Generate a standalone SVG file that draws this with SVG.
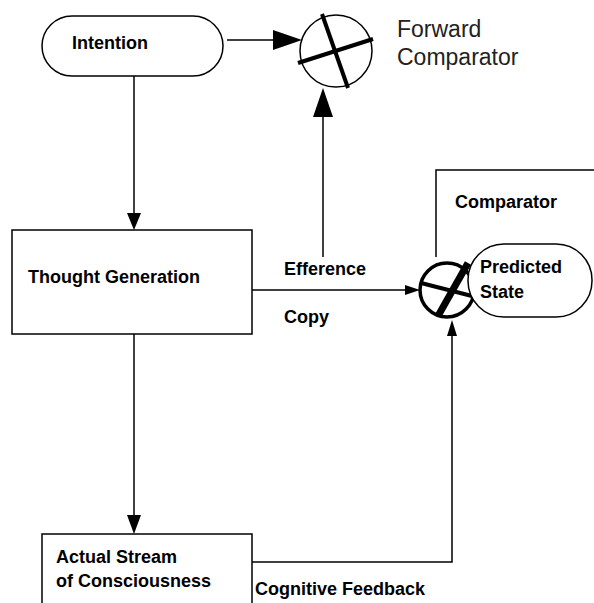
<svg xmlns="http://www.w3.org/2000/svg" width="594" height="603" viewBox="0 0 594 603">
  <style>
    .shape { fill: #ffffff; stroke: #000000; stroke-width: 1.5; }
    .line { fill: none; stroke: #000000; stroke-width: 1.5; }
    .head { fill: #000000; stroke: none; }
    .lbl { font-family: "Liberation Sans", Arial, sans-serif; font-size: 18px; font-weight: bold; fill: #000000; }
    .big { font-family: "Liberation Sans", Arial, sans-serif; font-size: 23px; fill: #222222; }
    .cross { stroke: #000000; fill: none; }
  </style>
  <rect x="0" y="0" width="594" height="603" fill="#ffffff"/>

  <g id="connectors">
    <line class="line" x1="227" y1="40" x2="275" y2="40"/>
    <polygon class="head" points="273,30 302,40 273,50"/>
    <line class="line" x1="323" y1="257" x2="323" y2="115"/>
    <polygon class="head" points="313,117 323,88 333,117"/>
    <line class="line" x1="134" y1="76" x2="134" y2="215"/>
    <polygon class="head" points="127,213 134,230 141,213"/>
    <line class="line" x1="252" y1="290" x2="407" y2="290"/>
    <polygon class="head" points="405,285 420,290 405,295"/>
    <polyline class="line" points="252,562 452,562 452,334"/>
    <polygon class="head" points="447,336 452,320 457,336"/>
    <line class="line" x1="134" y1="334" x2="134" y2="517"/>
    <polygon class="head" points="127,515 134,534 141,515"/>
    <text class="lbl" x="284" y="275">Efference</text>
    <text class="lbl" x="284" y="323">Copy</text>
    <text class="lbl" x="255" y="595">Cognitive Feedback</text>
  </g>

  <g id="intention">
    <rect class="shape" x="42" y="16" width="181" height="60" rx="30" ry="30"/>
    <text class="lbl" x="72" y="49">Intention</text>
  </g>

  <g id="forward-comparator">
    <circle class="shape" cx="336" cy="51" r="36"/>
    <line class="cross" stroke-width="4" x1="322" y1="14" x2="348" y2="88"/>
    <line class="cross" stroke-width="4" x1="298" y1="63" x2="373" y2="39"/>
    <text class="big" x="397" y="37">Forward</text>
    <text class="big" x="397" y="65">Comparator</text>
  </g>

  <g id="thought-generation">
    <rect class="shape" x="12" y="230" width="240" height="104"/>
    <text class="lbl" x="28" y="283">Thought Generation</text>
  </g>

  <g id="comparator">
    <polyline class="line" points="436,257 436,170 600,170"/>
    <text class="lbl" x="455" y="208">Comparator</text>
    <circle cx="447" cy="290" r="27" fill="#ffffff" stroke="#000000" stroke-width="3.5"/>
    <line class="cross" stroke-width="7" x1="468" y1="263" x2="438" y2="316"/>
    <line class="cross" stroke-width="4" x1="421" y1="283" x2="472" y2="296"/>
  </g>

  <g id="predicted-state">
    <rect class="shape" x="468" y="244" width="124" height="73" rx="36" ry="36"/>
    <text class="lbl" x="480" y="273">Predicted</text>
    <text class="lbl" x="480" y="298">State</text>
  </g>

  <g id="actual-stream">
    <rect class="shape" x="42" y="534" width="210" height="80"/>
    <text class="lbl" x="56" y="563">Actual Stream</text>
    <text class="lbl" x="56" y="587">of Consciousness</text>
  </g>
</svg>
